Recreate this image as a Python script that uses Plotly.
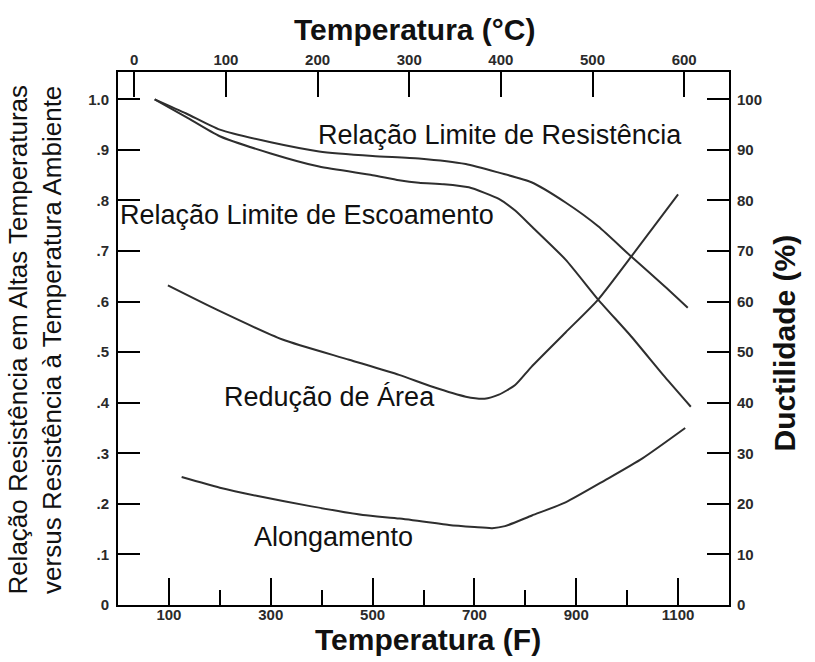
import plotly.graph_objects as go

# ---- data ----
tensile_F = [72, 134, 200, 300, 395, 500, 591, 683, 748, 812, 879, 943, 1008, 1074, 1119]
tensile_ratio = [1.0, 0.972, 0.94, 0.915, 0.897, 0.888, 0.883, 0.872, 0.855, 0.836, 0.796, 0.749, 0.689, 0.63, 0.588]

yield_F = [72, 134, 200, 300, 395, 500, 552, 591, 640, 689, 720, 748, 780, 812, 879, 943, 1008, 1074, 1125]
yield_ratio = [1.0, 0.965, 0.927, 0.893, 0.867, 0.85, 0.84, 0.835, 0.832, 0.826, 0.815, 0.803, 0.78, 0.749, 0.683, 0.604, 0.531, 0.451, 0.392]

area_F = [98, 194, 323, 454, 552, 616, 683, 720, 748, 780, 812, 879, 943, 1008, 1100]
area_pct = [63.2, 58.4, 52.5, 48.5, 45.5, 43.2, 41.2, 40.8, 41.6, 43.5, 47.1, 53.9, 60.4, 68.9, 81.2]

elong_F = [125, 200, 272, 380, 481, 553, 622, 650, 700, 735, 760, 813, 879, 957, 1030, 1114]
elong_pct = [25.3, 23.2, 21.6, 19.5, 17.8, 17.1, 16.2, 15.8, 15.4, 15.2, 15.6, 17.7, 20.3, 24.7, 29.0, 35.0]

F_ticks = [100, 300, 500, 700, 900, 1100]
F_minor = [200, 400, 600, 800, 1000]
C_ticks = [0, 100, 200, 300, 400, 500, 600]
ratio_ticks = [0, 0.1, 0.2, 0.3, 0.4, 0.5, 0.6, 0.7, 0.8, 0.9, 1.0]
ratio_labels = ["0", ".1", ".2", ".3", ".4", ".5", ".6", ".7", ".8", ".9", "1.0"]
pct_ticks = [0, 10, 20, 30, 40, 50, 60, 70, 80, 90, 100]

F_range = [0, 1200]
ratio_range = [0, 1.054]


def f_to_c(f):
    return (f - 32) / 1.8


LINE = dict(color="#2e2e2e", width=2, shape="spline", smoothing=0.6)

fig = go.Figure()
fig.add_trace(go.Scatter(x=tensile_F, y=tensile_ratio, mode="lines", line=LINE, xaxis="x", yaxis="y"))
fig.add_trace(go.Scatter(x=yield_F, y=yield_ratio, mode="lines", line=LINE, xaxis="x", yaxis="y"))
fig.add_trace(go.Scatter(x=area_F, y=area_pct, mode="lines", line=LINE, xaxis="x", yaxis="y2"))
fig.add_trace(go.Scatter(x=elong_F, y=elong_pct, mode="lines", line=LINE, xaxis="x", yaxis="y2"))
# same tensile curve expressed in °C, invisible: binds the top (°C) axis so it is drawn
fig.add_trace(go.Scatter(x=[f_to_c(f) for f in tensile_F], y=tensile_ratio, mode="lines",
                         line=dict(width=0, color="rgba(0,0,0,0)"), hoverinfo="skip",
                         xaxis="x2", yaxis="y"))

tickfont = dict(family="Liberation Sans, Arial, sans-serif", size=15, color="#2a2a2a", weight="bold")
axis_common = dict(showline=True, linecolor="black", linewidth=2, ticks="inside",
                   tickcolor="black", tickwidth=2, showgrid=False, zeroline=False,
                   tickfont=tickfont)

C_range = [f_to_c(F_range[0]), f_to_c(F_range[1])]

fig.update_layout(
    width=815, height=662,
    margin=dict(l=118, r=86, t=72, b=57),
    paper_bgcolor="white", plot_bgcolor="white",
    showlegend=False,
    font=dict(family="Liberation Sans, Arial, sans-serif", color="#111"),
    xaxis=dict(range=F_range, tickvals=F_ticks, ticklen=27, ticklabelstandoff=-5,
               minor=dict(tickvals=F_minor, ticks="inside", ticklen=15, tickwidth=2, tickcolor="black"),
               **axis_common),
    xaxis2=dict(range=C_range, overlaying="x", side="top", anchor="y", tickvals=C_ticks,
                ticklen=25, ticklabelstandoff=-1, **axis_common),
    yaxis=dict(range=ratio_range, tickvals=ratio_ticks, ticktext=ratio_labels, ticklen=22,
               ticklabelstandoff=4, **axis_common),
    yaxis2=dict(range=[ratio_range[0] * 100, ratio_range[1] * 100], overlaying="y", side="right",
                anchor="x", tickvals=pct_ticks, ticklen=22, ticklabelstandoff=3, **axis_common),
)

lab = dict(family="Liberation Sans, Arial, sans-serif", size=27, color="#111")
bold = dict(family="Liberation Sans, Arial, sans-serif", size=30, color="#111", weight="bold")

annotations = [
    dict(text="Relação Limite de Resistência", x=750, y=0.93, xref="x", yref="y", font=lab),
    dict(text="Relação Limite de Escoamento", x=371, y=0.771, xref="x", yref="y", font=lab),
    dict(text="Redução de Área", x=416, y=0.411, xref="x", yref="y", font=lab),
    dict(text="Alongamento", x=424, y=0.134, xref="x", yref="y", font=lab),
    dict(text="Temperatura (°C)", x=0.486, y=1.08, xref="paper", yref="paper", font=bold),
    dict(text="Temperatura (F)", x=0.507, y=-0.064, xref="paper", yref="paper", font=bold),
    dict(text="Ductilidade (%)", x=1.0924, y=0.4916, xref="paper", yref="paper", font=bold, textangle=-90),
    dict(text="Relação Resistência em Altas Temperaturas<br>versus Resistência à Temperatura Ambiente",
         x=-0.135, y=0.497, xref="paper", yref="paper", textangle=-90,
         font=dict(family="Liberation Sans, Arial, sans-serif", size=26, color="#111")),
]
for a in annotations:
    a.update(showarrow=False, xanchor="center", yanchor="middle")
fig.update_layout(annotations=annotations)

fig.write_html("out.html", config={"displayModeBar": False},
               post_script="document.body.style.margin='0';")
